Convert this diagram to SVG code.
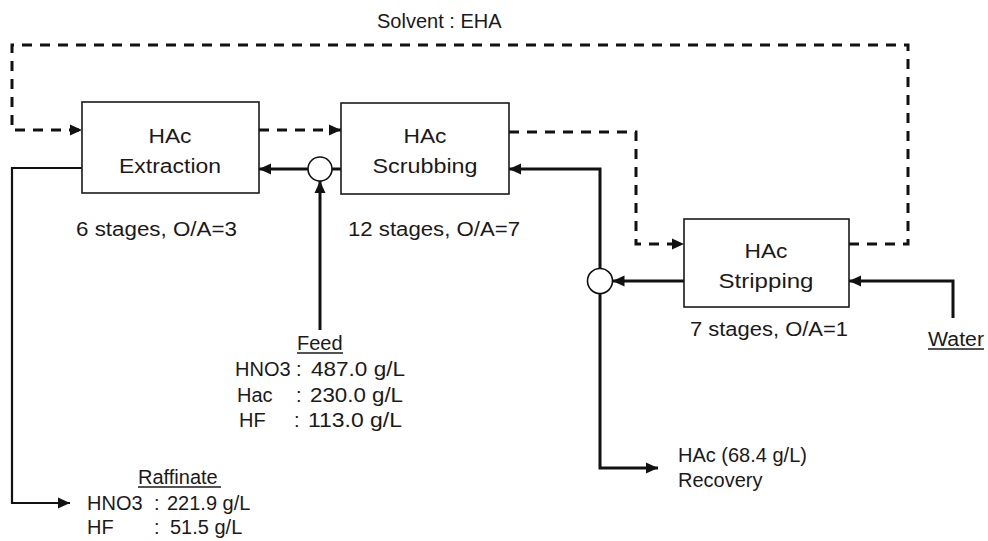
<svg xmlns="http://www.w3.org/2000/svg" width="988" height="541" viewBox="0 0 988 541">
<style>
.t{font-family:"Liberation Sans",Arial,sans-serif;font-size:20px;fill:#1a1a1a}
.box{fill:#fff;stroke:#1a1a1a;stroke-width:1.6}
.mix{fill:#fff;stroke:#111;stroke-width:1.6}
.sol{fill:none;stroke:#111;stroke-width:3}
.thin{fill:none;stroke:#111;stroke-width:2.2}
.dash{fill:none;stroke:#111;stroke-width:3;stroke-dasharray:10 8}
.ul{stroke:#1a1a1a;stroke-width:1.3}
</style>
<defs>
<marker id="ah" viewBox="0 0 12 12" refX="12" refY="6" markerWidth="12" markerHeight="12" markerUnits="userSpaceOnUse" orient="auto">
<path d="M0,0.5 L12,6 L0,11.5 z" fill="#111"/>
</marker>
</defs>

<g id="connectors">
<path class="dash" d="M849,244 H908 V45 H12 V130 H82" marker-end="url(#ah)"/>
<path class="dash" d="M259,130 H341" marker-end="url(#ah)"/>
<path class="dash" d="M509,132 H636 V244 H684" marker-end="url(#ah)"/>
<path class="thin" d="M82,168 H12 V503 H70" marker-end="url(#ah)"/>
<path class="sol" d="M341,169 H332"/>
<path class="sol" d="M308,169 H259" marker-end="url(#ah)"/>
<path class="sol" d="M320,330 V181" marker-end="url(#ah)"/>
<path class="sol" d="M684,281 H612.5" marker-end="url(#ah)"/>
<path class="sol" d="M600,268.5 V169 H509" marker-end="url(#ah)"/>
<path class="sol" d="M600,293.5 V468 H658" marker-end="url(#ah)"/>
<path class="sol" d="M953,318 V281 H849" marker-end="url(#ah)"/>
</g>

<g id="solvent">
<text class="t" x="377" y="28">Solvent : EHA</text>
</g>

<g id="extraction">
<rect class="box" x="82" y="102" width="177" height="91"/>
<text class="t" x="170" y="143" text-anchor="middle" textLength="43" lengthAdjust="spacingAndGlyphs">HAc</text>
<text class="t" x="170" y="173" text-anchor="middle" textLength="102" lengthAdjust="spacingAndGlyphs">Extraction</text>
<text class="t" x="76" y="236" textLength="161" lengthAdjust="spacingAndGlyphs">6 stages, O/A=3</text>
</g>

<g id="scrubbing">
<rect class="box" x="341" y="103" width="168" height="91"/>
<text class="t" x="425" y="143" text-anchor="middle" textLength="43" lengthAdjust="spacingAndGlyphs">HAc</text>
<text class="t" x="425" y="173" text-anchor="middle" textLength="105" lengthAdjust="spacingAndGlyphs">Scrubbing</text>
<text class="t" x="348" y="236" textLength="172" lengthAdjust="spacingAndGlyphs">12 stages, O/A=7</text>
</g>

<g id="stripping">
<rect class="box" x="684" y="219" width="165" height="88"/>
<text class="t" x="766" y="258" text-anchor="middle" textLength="43" lengthAdjust="spacingAndGlyphs">HAc</text>
<text class="t" x="766" y="288" text-anchor="middle" textLength="95" lengthAdjust="spacingAndGlyphs">Stripping</text>
<text class="t" x="690" y="336" textLength="158" lengthAdjust="spacingAndGlyphs">7 stages, O/A=1</text>
</g>

<g id="mixer-feed">
<circle class="mix" cx="320" cy="169" r="12"/>
</g>

<g id="mixer-strip">
<circle class="mix" cx="600" cy="281" r="12.5"/>
</g>

<g id="feed">
<text class="t" x="297" y="350">Feed</text>
<line class="ul" x1="297" y1="353" x2="343" y2="353"/>
<text class="t" x="235" y="376"><tspan x="235">HNO3 </tspan><tspan x="296">: </tspan><tspan x="311" textLength="94" lengthAdjust="spacingAndGlyphs">487.0 g/L</tspan></text>
<text class="t" x="237" y="402"><tspan x="237">Hac </tspan><tspan x="296">: </tspan><tspan x="310" textLength="93" lengthAdjust="spacingAndGlyphs">230.0 g/L</tspan></text>
<text class="t" x="239" y="427"><tspan x="239">HF </tspan><tspan x="294">: </tspan><tspan x="308" textLength="94" lengthAdjust="spacingAndGlyphs">113.0 g/L</tspan></text>
</g>

<g id="water">
<text class="t" x="928" y="346" textLength="56" lengthAdjust="spacingAndGlyphs">Water</text>
<line class="ul" x1="928" y1="349" x2="984" y2="349"/>
</g>

<g id="raffinate">
<text class="t" x="138" y="484">Raffinate</text>
<line class="ul" x1="138" y1="487" x2="221" y2="487"/>
<text class="t" x="87" y="510"><tspan x="87">HNO3 </tspan><tspan x="154">: </tspan><tspan x="167">221.9 g/L</tspan></text>
<text class="t" x="87" y="534"><tspan x="87">HF </tspan><tspan x="154">: </tspan><tspan x="170">51.5 g/L</tspan></text>
</g>

<g id="recovery">
<text class="t" x="678" y="462">HAc (68.4 g/L)</text>
<text class="t" x="678" y="487">Recovery</text>
</g>
</svg>
